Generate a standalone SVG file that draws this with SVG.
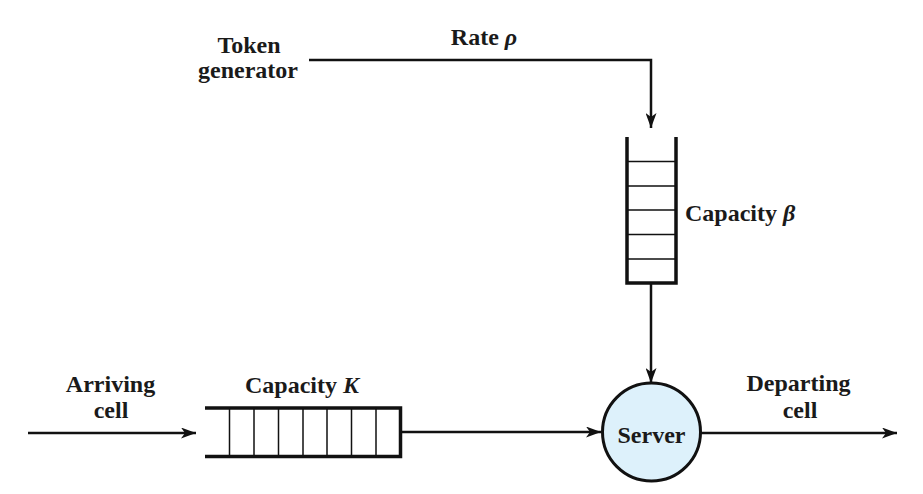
<svg xmlns="http://www.w3.org/2000/svg" width="923" height="494" viewBox="0 0 923 494">
<defs>
<style>
.t{font-family:"Liberation Serif","Times New Roman",serif;font-weight:bold;font-size:24px;fill:#1a1a1a;text-anchor:middle}
.ln{stroke:#111;stroke-width:2.5;fill:none}
.thin{stroke:#111;stroke-width:1.5;fill:none}
.thick{stroke:#111;stroke-width:3.5;fill:none}
</style>
<marker id="ah" viewBox="0 0 15 11" refX="15" refY="5.5" markerWidth="15" markerHeight="11" markerUnits="userSpaceOnUse" orient="auto">
<path d="M0,0 L15,5.5 L0,11 L4,5.5 Z" fill="#111"/>
</marker>
</defs>
<rect width="923" height="494" fill="#fff"/>
<g id="connectors">
<path class="ln" d="M309,60 H651 V128" marker-end="url(#ah)"/>
<path class="ln" d="M651,284 V383" marker-end="url(#ah)"/>
<path class="ln" d="M28,433 H196" marker-end="url(#ah)"/>
<path class="ln" d="M401,432 H601" marker-end="url(#ah)"/>
<path class="ln" d="M701,433 H897" marker-end="url(#ah)"/>
</g>
<g id="token-generator">
<text class="t" x="249" y="53">Token</text>
<text class="t" x="248" y="78">generator</text>
</g>
<g id="rate-label">
<text class="t" x="484" y="45">Rate <tspan font-style="italic">ρ</tspan></text>
</g>
<g id="token-bucket">
<path class="thin" d="M627,161.5 H676 M627,186 H676 M627,210 H676 M627,234.5 H676 M627,259 H676"/>
<path class="thick" d="M627,137 V283 H676 V137"/>
<text class="t" x="685" y="221" style="text-anchor:start">Capacity <tspan font-style="italic">β</tspan></text>
</g>
<g id="cell-queue">
<path class="thin" d="M229.5,408 V456.5 M254,408 V456.5 M278.5,408 V456.5 M303,408 V456.5 M327,408 V456.5 M351.5,408 V456.5 M376,408 V456.5"/>
<path class="thick" d="M205,408 H400.5 V456.5 H205"/>
<text class="t" x="302" y="393">Capacity <tspan font-style="italic">K</tspan></text>
</g>
<g id="server">
<circle cx="651.5" cy="432" r="49" fill="#ddf1fb" stroke="#111" stroke-width="3"/>
<text class="t" x="651.5" y="443">Server</text>
</g>
<g id="arriving">
<text class="t" x="110.5" y="392">Arriving</text>
<text class="t" x="111" y="418">cell</text>
</g>
<g id="departing">
<text class="t" x="798.5" y="391">Departing</text>
<text class="t" x="800" y="418">cell</text>
</g>
</svg>
